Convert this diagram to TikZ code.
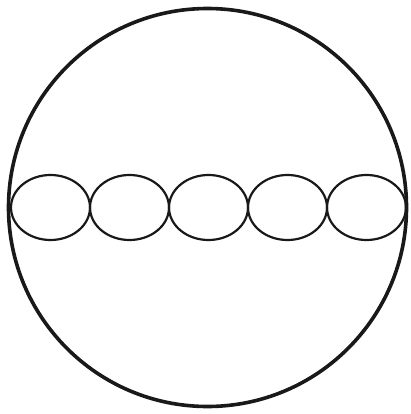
\documentclass[tikz,border=0pt]{standalone}
\begin{document}
\begin{tikzpicture}[x=1pt,y=-1pt,
  outer/.style={draw=black!90,line width=3.6pt},
  bead/.style={draw=black!90,line width=2.2pt}]
\useasboundingbox (0,0) rectangle (410,414);
\draw[outer] (207.5,207.5) circle[radius=199];
\foreach \i in {0,...,4}{
  \draw[bead] ({50.5+79*\i},207.5) ellipse[x radius=39.5,y radius=32.5];
}
\end{tikzpicture}
\end{document}
